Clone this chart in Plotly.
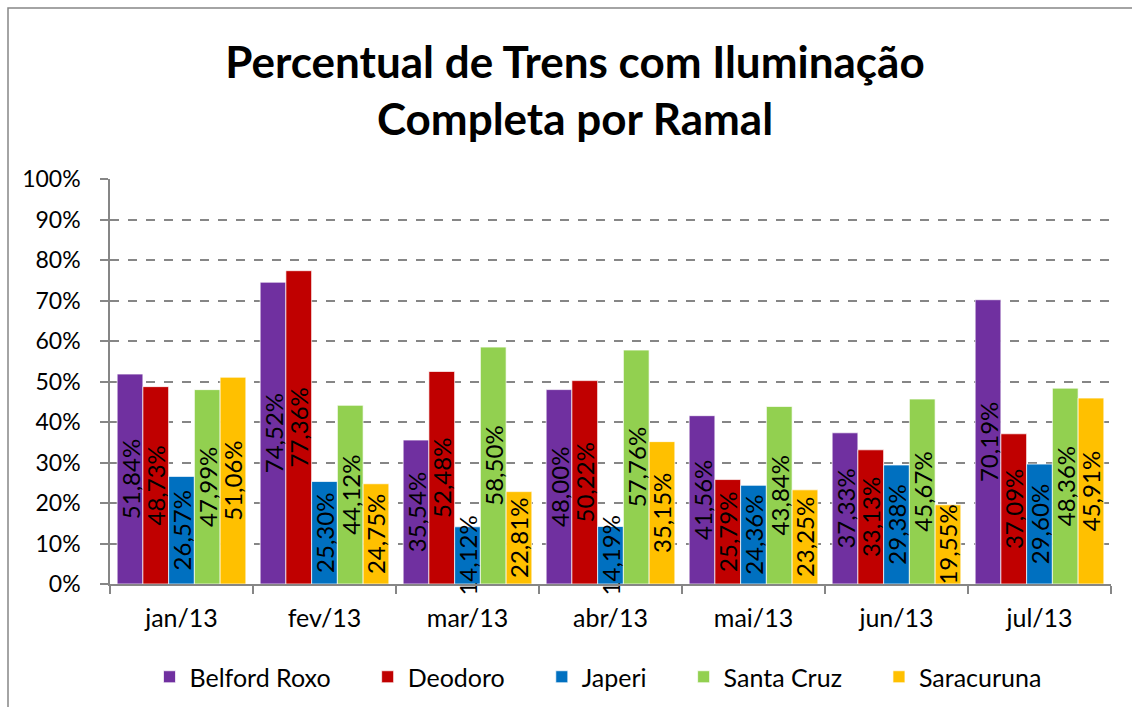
import plotly.graph_objects as go

# Monthly share of trains with complete lighting, per branch line (%)
months = ["jan/13", "fev/13", "mar/13", "abr/13", "mai/13", "jun/13", "jul/13"]
belford_roxo = [51.84, 74.52, 35.54, 48.00, 41.56, 37.33, 70.19]
deodoro = [48.73, 77.36, 52.48, 50.22, 25.79, 33.13, 37.09]
japeri = [26.57, 25.30, 14.12, 14.19, 24.36, 29.38, 29.60]
santa_cruz = [47.99, 44.12, 58.50, 57.76, 43.84, 45.67, 48.36]
saracuruna = [51.06, 24.75, 22.81, 35.15, 23.25, 19.55, 45.91]

series = [
    ("Belford Roxo", belford_roxo, "#7030A0"),
    ("Deodoro", deodoro, "#C00000"),
    ("Japeri", japeri, "#0070C0"),
    ("Santa Cruz", santa_cruz, "#92D050"),
    ("Saracuruna", saracuruna, "#FFC000"),
]

FONT = "Lato, sans-serif"
AXIS_GRAY = "#868686"
LEGEND_PAD = "\u00a0" * 5  # extra room between legend entries

W, H = 1132, 707
L, R, T, B = 110, 21, 179, 123
plot_w = W - L - R
plot_h = H - T - B


def pct_label(v):
    return f"{v:.2f}".replace(".", ",") + "%"


fig = go.Figure()
for i, (name, vals, color) in enumerate(series):
    legend_name = name + (LEGEND_PAD if i < len(series) - 1 else "")
    fig.add_trace(go.Bar(
        name=legend_name,
        x=months,
        y=vals,
        marker=dict(color=color, line=dict(color="rgba(255,255,255,0.7)", width=1)),
        text=[pct_label(v) for v in vals],
        textposition="inside",
        insidetextanchor="middle",
        textangle=-90,
        constraintext="none",
        insidetextfont=dict(family=FONT, size=24, color="black"),
        cliponaxis=False,
    ))

# outer chart frame
def px_to_paper_x(px):
    return (px - L) / plot_w


def px_to_paper_y(py):
    return (H - B - py) / plot_h


fig.add_shape(
    type="rect", xref="paper", yref="paper",
    x0=px_to_paper_x(8), x1=px_to_paper_x(W + 10),
    y0=px_to_paper_y(H + 10), y1=px_to_paper_y(8),
    line=dict(color=AXIS_GRAY, width=1.5), fillcolor="rgba(0,0,0,0)",
    layer="below",
)

fig.update_layout(
    width=W, height=H,
    margin=dict(l=L, r=R, t=T, b=B, pad=0),
    paper_bgcolor="white", plot_bgcolor="white",
    barmode="group", bargap=0.1, bargroupgap=0,
    font=dict(family=FONT, size=25, color="black"),
    title=dict(
        text="<b>Percentual de Trens com Iluminação<br>Completa por Ramal</b>",
        font=dict(family=FONT, size=44, color="black"),
        x=575 / W, xref="container", xanchor="center",
        y=1 - 78 / H, yref="container", yanchor="middle",
    ),
    legend=dict(
        orientation="h",
        xref="container", yref="container",
        x=598 / W, xanchor="center",
        y=1 - 677 / H, yanchor="middle",
        font=dict(family=FONT, size=25, color="black"),
        itemclick=False,
    ),
    showlegend=True,
)

fig.update_xaxes(
    type="category",
    showline=True, linecolor=AXIS_GRAY, linewidth=1.5,
    ticks="outside", tickson="boundaries", ticklen=8, tickcolor=AXIS_GRAY, tickwidth=1.5,
    ticklabelstandoff=11,
    showgrid=False,
    tickfont=dict(family=FONT, size=25, color="black"),
)
fig.update_yaxes(
    range=[0, 100], dtick=10, ticksuffix="%",
    showline=True, linecolor=AXIS_GRAY, linewidth=1.5,
    ticks="outside", ticklen=8, tickcolor=AXIS_GRAY, tickwidth=1.5,
    ticklabelstandoff=15,
    showgrid=True, gridcolor=AXIS_GRAY, gridwidth=1.5, griddash="dash",
    zeroline=False,
    tickfont=dict(family=FONT, size=23, color="black"),
)

fig.write_html("out.html")
